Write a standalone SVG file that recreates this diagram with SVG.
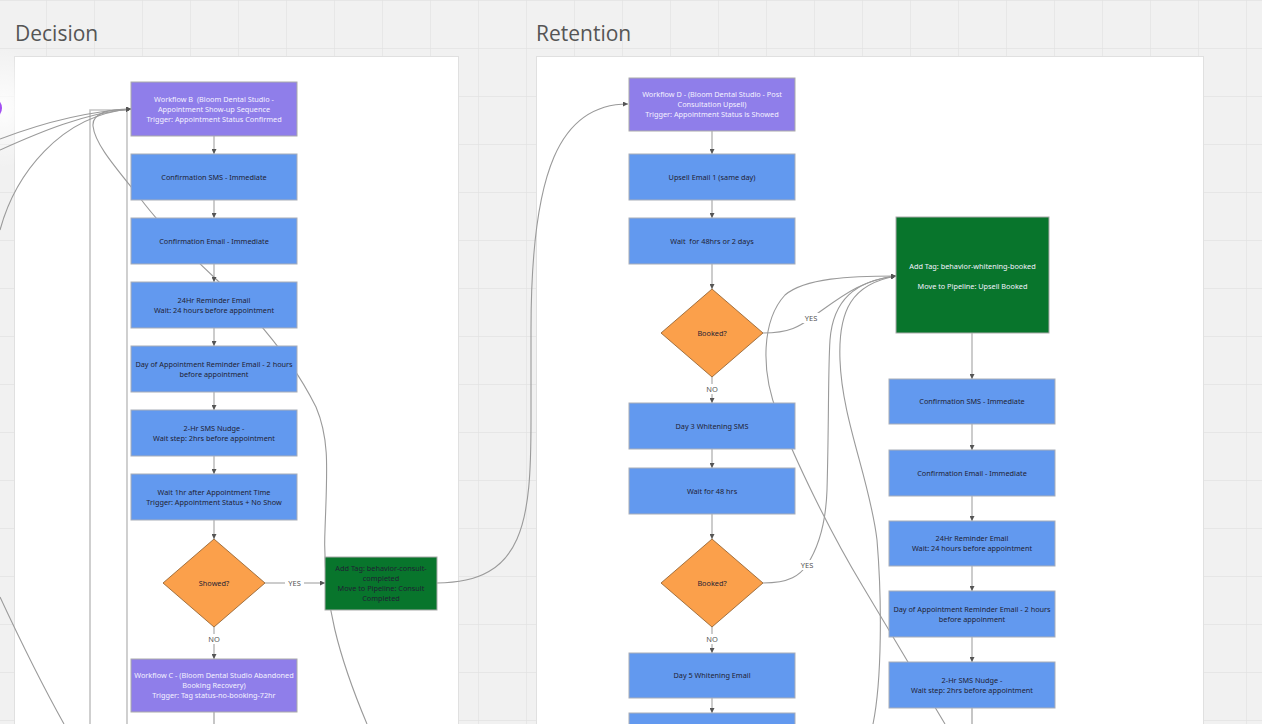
<svg xmlns="http://www.w3.org/2000/svg" width="1262" height="724" viewBox="0 0 1262 724">
<style>
.title{font-family:"Open Sans","Noto Sans",sans-serif;font-size:21px;fill:#555}
.t{font-family:"Noto Sans","Open Sans",sans-serif;font-size:7.3px;text-anchor:middle;fill:#1f2233}
.tw{font-family:"Noto Sans","Open Sans",sans-serif;font-size:7.3px;text-anchor:middle;fill:#f4f2ff}
.lbl{font-family:"Noto Sans","Open Sans",sans-serif;font-size:7.5px;text-anchor:middle;fill:#555}
.purple{fill:#8f7eea;stroke:#aaa;stroke-width:1}
.blue{fill:#6299ef;stroke:#a8adb8;stroke-width:1}
.green{fill:#08752c;stroke:#aaa;stroke-width:1}
.orange{fill:#fba04b;stroke:#8a5a2a;stroke-width:0.8}
.c{fill:none;stroke:#8d8d8d;stroke-width:1}
.cv{fill:none;stroke:#999;stroke-width:1;marker-end:url(#ah)}
.cc{fill:none;stroke:#9a9a9a;stroke-width:1.1}
.rail{fill:none;stroke:#c4c4c4;stroke-width:1.6}
.lb{fill:#fff}
</style>
<defs>
<pattern id="grid" x="46" y="0" width="48" height="48" patternUnits="userSpaceOnUse">
<path d="M0 0 V48 M0 0 H48" fill="none" stroke="#e2e2e2" stroke-width="1.3"/>
</pattern>
<marker id="ah" viewBox="0 0 6 6" refX="6" refY="3" markerWidth="5" markerHeight="5" orient="auto" markerUnits="userSpaceOnUse">
<path d="M0 0 L6 3 L0 6 Z" fill="#555"/>
</marker>
<radialGradient id="glow" cx="0.5" cy="0.5" r="0.5">
<stop offset="0" stop-color="#fff" stop-opacity="0.9"/>
<stop offset="1" stop-color="#fff" stop-opacity="0"/>
</radialGradient>
</defs>

<rect x="0" y="0" width="1262" height="724" fill="#f1f1f1"/>
<rect x="0" y="0" width="1262" height="724" fill="url(#grid)"/>

<g id="panel-decision">
<text class="title" x="15" y="41">Decision</text>
<rect x="14.5" y="56.5" width="444" height="680" fill="#fff" stroke="#e0e0e0"/>
</g>
<g id="panel-retention">
<text class="title" x="536" y="41">Retention</text>
<rect x="536.5" y="56.5" width="667" height="680" fill="#fff" stroke="#e0e0e0"/>
</g>

<g id="offscreen-node">
<ellipse cx="4" cy="108" rx="40" ry="60" fill="url(#glow)"/>
<circle cx="-9" cy="108" r="11" fill="#a24ff2"/>
</g>

<g id="connectors">
<path class="rail" d="M90 724 V110 H128"/>
<path class="rail" d="M127 724 V112"/>
<path class="cc" d="M0 150 C40 132 85 113 131 109" marker-end="url(#ah)"/>
<path class="cc" d="M0 139 C45 122 90 111 131 109" marker-end="url(#ah)"/>
<path class="cc" d="M0 230 C15 175 60 115 131 109" marker-end="url(#ah)"/>
<path class="cc" d="M367 724 C340 660 322 600 325 530 C327 470 330 440 316 407 C300 375 270 330 217 280 C185 250 160 225 140 198 C118 170 95 145 93 126 C92 113 108 109 131 109" marker-end="url(#ah)"/>
<path class="cc" d="M0 597 C20 640 45 690 64 724"/>

<path class="cv" d="M214 136 V154"/>
<path class="cv" d="M214 200 V218"/>
<path class="cv" d="M214 264 V282"/>
<path class="cv" d="M214 328 V346"/>
<path class="cv" d="M214 392 V410"/>
<path class="cv" d="M214 456 V474"/>
<path class="cv" d="M214 520 V539"/>
<path class="cv" d="M214 627 V659"/>
<path class="cv" d="M265 583 H325"/>
<path class="c" d="M214 712 V724"/>

<path class="cc" d="M437 583 C525 583 531 520 531 420 L531 330 C531 170 560 104 628 104" marker-end="url(#ah)"/>

<path class="cv" d="M712 131 V154"/>
<path class="cv" d="M712 200 V218"/>
<path class="cv" d="M712 264 V289"/>
<path class="cv" d="M712 377 V403"/>
<path class="cv" d="M712 449 V468"/>
<path class="cv" d="M712 514 V539"/>
<path class="cv" d="M712 627 V653"/>
<path class="cv" d="M712 698 V713"/>

<path class="cc" d="M763 333 C790 333 800 326 811 318 C840 298 860 280 896 276" marker-end="url(#ah)"/>
<path class="cc" d="M763 583 C790 583 800 575 807 565 C820 545 826 520 827 490 C829 420 828 370 830 340 C833 300 855 281 896 276" marker-end="url(#ah)"/>
<path class="cc" d="M873 724 C882 680 882 600 877 540 C870 480 842 420 840 360 C838 310 852 284 896 276" marker-end="url(#ah)"/>
<path class="cc" d="M945 724 L862 585 C830 532 795 460 778 415 C760 370 762 320 785 295 C805 278 850 276 896 276" marker-end="url(#ah)"/>

<path class="cv" d="M972 333 V379"/>
<path class="cv" d="M972 424 V450"/>
<path class="cv" d="M972 496 V521"/>
<path class="cv" d="M972 566 V591"/>
<path class="cv" d="M972 637 V662"/>
<path class="c" d="M972 708 V724"/>

<rect class="lb" x="285" y="578" width="19" height="10"/>
<text class="lbl" x="294.5" y="586">YES</text>
<rect class="lb" x="206" y="634" width="16" height="10"/>
<text class="lbl" x="214" y="642">NO</text>
<rect class="lb" x="802" y="313" width="19" height="10"/>
<text class="lbl" x="811" y="321">YES</text>
<rect class="lb" x="704" y="384" width="16" height="10"/>
<text class="lbl" x="712" y="392">NO</text>
<rect class="lb" x="798" y="560" width="19" height="10"/>
<text class="lbl" x="807" y="568">YES</text>
<rect class="lb" x="704" y="634" width="16" height="10"/>
<text class="lbl" x="712" y="642">NO</text>
</g>

<g id="wf-b"><rect class="purple" x="131" y="82" width="166" height="54"/>
<text class="tw" x="214" y="101.5">Workflow B&#160; (Bloom Dental Studio -</text>
<text class="tw" x="214" y="111.5">Appointment Show-up Sequence</text>
<text class="tw" x="214" y="121.5">Trigger: Appointment Status Confirmed</text></g>
<g id="d-conf-sms"><rect class="blue" x="131" y="154" width="166" height="46"/>
<text class="t" x="214" y="179.5">Confirmation SMS - Immediate</text></g>
<g id="d-conf-email"><rect class="blue" x="131" y="218" width="166" height="46"/>
<text class="t" x="214" y="243.5">Confirmation Email - Immediate</text></g>
<g id="d-24hr"><rect class="blue" x="131" y="282" width="166" height="46"/>
<text class="t" x="214" y="302.5">24Hr Reminder Email</text>
<text class="t" x="214" y="312.5">Wait: 24 hours before appointment</text></g>
<g id="d-dayof"><rect class="blue" x="131" y="346" width="166" height="46"/>
<text class="t" x="214" y="366.5">Day of Appointment Reminder Email - 2 hours</text>
<text class="t" x="214" y="376.5">before appointment</text></g>
<g id="d-2hr"><rect class="blue" x="131" y="410" width="166" height="46"/>
<text class="t" x="214" y="430.5">2-Hr SMS Nudge -</text>
<text class="t" x="214" y="440.5">Wait step: 2hrs before appointment</text></g>
<g id="d-wait1hr"><rect class="blue" x="131" y="474" width="166" height="46"/>
<text class="t" x="214" y="494.5">Wait 1hr after Appointment Time</text>
<text class="t" x="214" y="504.5">Trigger: Appointment Status + No Show</text></g>
<g id="d-showed"><path class="orange" d="M214 539 L265 583 L214 627 L163 583 Z"/>
<text class="t" x="214" y="585.5">Showed?</text></g>
<g id="d-consult"><rect class="green" x="325" y="557" width="112" height="53"/>
<text class="t" x="381" y="571">Add Tag: behavior-consult-</text>
<text class="t" x="381" y="581">completed</text>
<text class="t" x="381" y="591">Move to Pipeline: Consult</text>
<text class="t" x="381" y="601">Completed</text></g>
<g id="wf-c"><rect class="purple" x="131" y="659" width="166" height="53"/>
<text class="tw" x="214" y="678">Workflow C - (Bloom Dental Studio Abandoned</text>
<text class="tw" x="214" y="688">Booking Recovery)</text>
<text class="tw" x="214" y="698">Trigger: Tag status-no-booking-72hr</text></g>

<g id="wf-d"><rect class="purple" x="629" y="78" width="166" height="53"/>
<text class="tw" x="712" y="97">Workflow D - (Bloom Dental Studio - Post</text>
<text class="tw" x="712" y="107">Consultation Upsell)</text>
<text class="tw" x="712" y="117">Trigger: Appointment Status is Showed</text></g>
<g id="r-upsell1"><rect class="blue" x="629" y="154" width="166" height="46"/>
<text class="t" x="712" y="179.5">Upsell Email 1 (same day)</text></g>
<g id="r-wait48a"><rect class="blue" x="629" y="218" width="166" height="46"/>
<text class="t" x="712" y="243.5">Wait&#160; for 48hrs or 2 days</text></g>
<g id="r-booked1"><path class="orange" d="M712 289 L763 333 L712 377 L661 333 Z"/>
<text class="t" x="712" y="335.5">Booked?</text></g>
<g id="r-day3"><rect class="blue" x="629" y="403" width="166" height="46"/>
<text class="t" x="712" y="428.5">Day 3 Whitening SMS</text></g>
<g id="r-wait48b"><rect class="blue" x="629" y="468" width="166" height="46"/>
<text class="t" x="712" y="493.5">Wait for 48 hrs</text></g>
<g id="r-booked2"><path class="orange" d="M712 539 L763 583 L712 627 L661 583 Z"/>
<text class="t" x="712" y="585.5">Booked?</text></g>
<g id="r-day5"><rect class="blue" x="629" y="653" width="166" height="45"/>
<text class="t" x="712" y="678">Day 5 Whitening Email</text></g>
<g id="r-next"><rect class="blue" x="629" y="713" width="166" height="46"/></g>

<g id="r-booked-tag"><rect class="green" x="896" y="217" width="153" height="116"/>
<text class="tw" x="972.5" y="268.5">Add Tag: behavior-whitening-booked</text>
<text class="tw" x="972.5" y="288.5">Move to Pipeline: Upsell Booked</text></g>
<g id="r-conf-sms"><rect class="blue" x="889" y="379" width="166" height="45"/>
<text class="t" x="972" y="404">Confirmation SMS - Immediate</text></g>
<g id="r-conf-email"><rect class="blue" x="889" y="450" width="166" height="46"/>
<text class="t" x="972" y="475.5">Confirmation Email - Immediate</text></g>
<g id="r-24hr"><rect class="blue" x="889" y="521" width="166" height="45"/>
<text class="t" x="972" y="541">24Hr Reminder Email</text>
<text class="t" x="972" y="551">Wait: 24 hours before appointment</text></g>
<g id="r-dayof"><rect class="blue" x="889" y="591" width="166" height="46"/>
<text class="t" x="972" y="611.5">Day of Appointment Reminder Email - 2 hours</text>
<text class="t" x="972" y="621.5">before appoinment</text></g>
<g id="r-2hr"><rect class="blue" x="889" y="662" width="166" height="46"/>
<text class="t" x="972" y="682.5">2-Hr SMS Nudge -</text>
<text class="t" x="972" y="692.5">Wait step: 2hrs before appointment</text></g>
</svg>
